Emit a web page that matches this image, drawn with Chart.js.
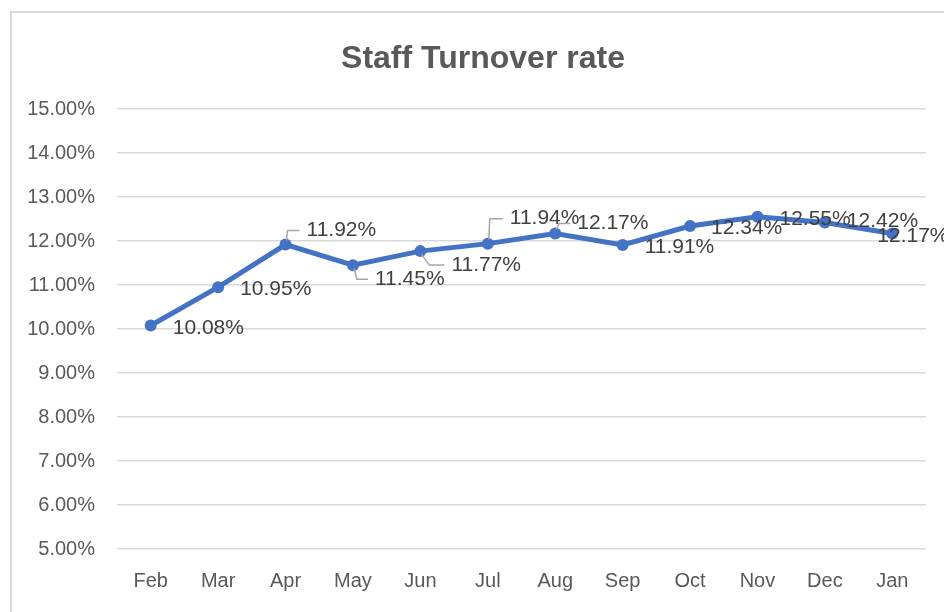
<!DOCTYPE html>
<html>
<head>
<meta charset="utf-8">
<title>Staff Turnover rate</title>
<script src="https://cdn.jsdelivr.net/npm/chart.js@4.4.1/dist/chart.umd.min.js"></script>
<style>
    html, body { margin: 0; padding: 0; background: #ffffff; overflow: hidden; }
    body { width: 944px; height: 612px; position: relative; }
    .chart-frame {
        position: absolute;
        left: 10px;
        top: 11px;
        border: 2px solid #d9d9d9;
        background: #ffffff;
    }
    #chart-turnover { display: block; }
</style>
</head>
<body>
<div class="chart-frame">
    <canvas id="chart-turnover" width="942" height="620"></canvas>
</div>
<script>
// Data
const months = ['Feb', 'Mar', 'Apr', 'May', 'Jun', 'Jul', 'Aug', 'Sep', 'Oct', 'Nov', 'Dec', 'Jan'];
const turnoverRate = [10.08, 10.95, 11.92, 11.45, 11.77, 11.94, 12.17, 11.91, 12.34, 12.55, 12.42, 12.17];
const yTicks = { min: 5, max: 15, step: 1 };
const chartTitle = 'Staff Turnover rate';

// Label placement relative to each point (Excel moved some of them by hand)
const labelOffsets = [
    { dx: 22, dy: 3 },
    { dx: 22, dy: 2 },
    { dx: 21, dy: -14, elbow: 2 },
    { dx: 22, dy: 14, elbow: 4 },
    { dx: 31, dy: 14, elbow: 9 },
    { dx: 22, dy: -25, elbow: 2 },
    { dx: 22, dy: -10, elbow: 4 },
    { dx: 22, dy: 2 },
    { dx: 21, dy: 2 },
    { dx: 22, dy: 2 },
    { dx: 22, dy: -1 },
    { dx: -15, dy: 3 }
];

const FONT = "'Liberation Sans', Arial, sans-serif";

// Title drawn centred on the whole frame (the built-in one follows layout padding)
const titlePlugin = {
    id: 'frameTitle',
    afterDraw(chart) {
        const ctx = chart.ctx;
        ctx.save();
        ctx.font = 'bold 32px ' + FONT;
        ctx.fillStyle = '#595959';
        ctx.textAlign = 'center';
        ctx.textBaseline = 'alphabetic';
        ctx.fillText(chartTitle, chart.width / 2, 55);
        ctx.restore();
    }
};

// Simple data labels with leader lines
const valueLabels = {
    id: 'valueLabels',
    afterDatasetsDraw(chart) {
        const ctx = chart.ctx;
        const meta = chart.getDatasetMeta(0);
        ctx.save();
        meta.data.forEach((pt, i) => {
            const off = labelOffsets[i];
            const tx = pt.x + off.dx;
            const ty = pt.y + off.dy;
            if (off.elbow !== undefined) {
                const startY = off.dy < 0 ? pt.y - 4 : pt.y + 3;
                ctx.beginPath();
                ctx.strokeStyle = '#a6a6a6';
                ctx.lineWidth = 1.5;
                ctx.moveTo(pt.x + 1, startY);
                ctx.lineTo(pt.x + off.elbow, ty);
                ctx.lineTo(tx - 7, ty);
                ctx.stroke();
            }
            ctx.font = '21px ' + FONT;
            ctx.fillStyle = '#404040';
            ctx.textAlign = 'left';
            ctx.textBaseline = 'middle';
            ctx.fillText(turnoverRate[i].toFixed(2) + '%', tx, ty);
        });
        ctx.restore();
    }
};

new Chart(document.getElementById('chart-turnover'), {
    type: 'line',
    data: {
        labels: months,
        datasets: [{
            label: chartTitle,
            data: turnoverRate,
            borderColor: '#4472c4',
            backgroundColor: '#4472c4',
            borderWidth: 5,
            tension: 0,
            pointRadius: 6,
            pointBorderWidth: 0,
            pointBackgroundColor: '#4472c4'
        }]
    },
    options: {
        responsive: false,
        animation: false,
        layout: { padding: { top: 96, right: 28, left: 0, bottom: 0 } },
        plugins: {
            legend: { display: false },
            title: { display: false },
            tooltip: { enabled: false }
        },
        scales: {
            x: {
                offset: true,
                grid: { display: false, drawTicks: false },
                border: { display: false },
                ticks: {
                    color: '#595959',
                    font: { family: FONT, size: 20 },
                    padding: 20,
                    maxRotation: 0
                },
                afterFit(scale) { scale.height = 84; }
            },
            y: {
                min: yTicks.min,
                max: yTicks.max,
                grid: { color: '#d9d9d9', lineWidth: 1.5, drawTicks: false },
                border: { display: false },
                ticks: {
                    stepSize: yTicks.step,
                    color: '#595959',
                    font: { family: FONT, size: 20 },
                    padding: 22,
                    callback: v => v.toFixed(2) + '%'
                },
                afterFit(scale) { scale.width = 105; }
            }
        }
    },
    plugins: [valueLabels, titlePlugin]
});
</script>
</body>
</html>
